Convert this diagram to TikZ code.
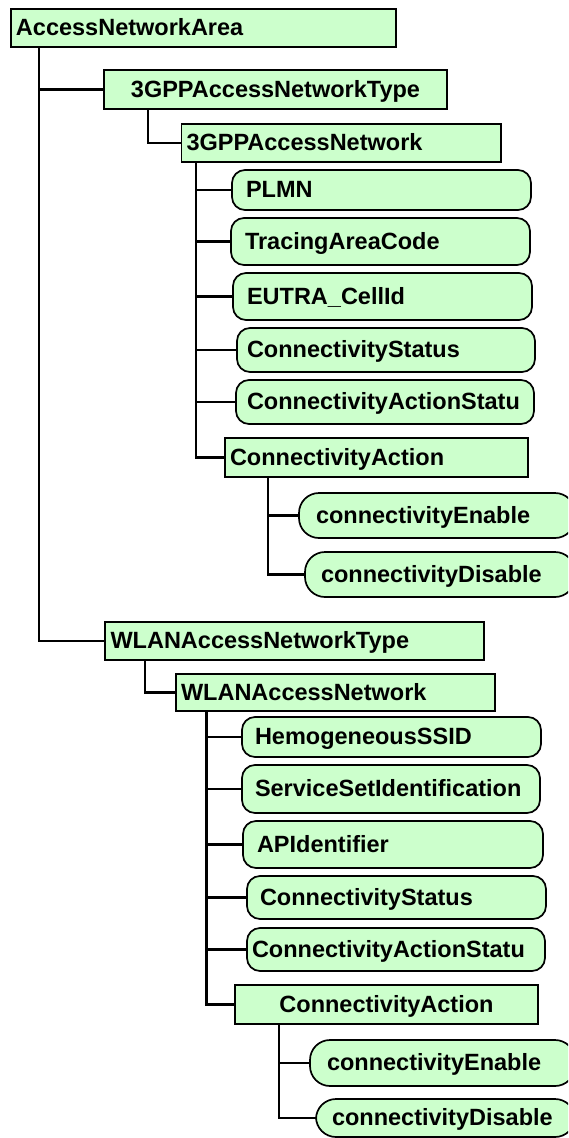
\documentclass[tikz,border=0pt]{standalone}
\usepackage{fontspec}
\setmainfont{Liberation Sans}
\definecolor{boxfill}{HTML}{CCFFCC}
\newcommand{\lbl}{\fontsize{23.5pt}{28pt}\selectfont\bfseries}
\tikzset{
  box/.style={draw=black, line width=1.7pt, fill=boxfill, font=\lbl,
    text height=17pt, text depth=2pt, inner ysep=0pt, outer sep=0pt,
    anchor=north west, align=left},
  % #1 width, #2 height, #3 left padding of the text
  dims/.code n args={3}{%
    \pgfmathsetmacro\boxtw{#1-2*#3}%
    \edef\boxtmp{\noexpand\tikzset{text width=\boxtw pt, inner xsep=#3pt,
      minimum height=#2pt}}\boxtmp},
  sqbox/.style={box},
  rbox/.style={box, rounded corners=13pt},
  pillbox/.style={box, rounded corners=20pt},
  link/.style={line width=2.5pt, draw=black}
}
\begin{document}
\begin{tikzpicture}[x=1pt, y=-1pt]
\useasboundingbox (0,0) rectangle (568,1138);
\clip (0,0) rectangle (568,1138);

% --- 3GPP branch ---
\node[sqbox, dims={385}{38}{5}] (root) at (11,9.3) {AccessNetworkArea};
\node[sqbox, dims={343}{39}{5}, align=center] (g3type) at (104,70) {3GPPAccessNetworkType};
\node[sqbox, dims={319.5}{38}{5}] (g3net) at (181.5,124) {3GPPAccessNetwork};
\node[rbox, dims={299}{40}{14}] (plmn) at (232,170) {PLMN};
\node[rbox, dims={299}{47}{14}] (tac) at (231,218) {TracingAreaCode};
\node[rbox, dims={299}{47}{14}] (eutra) at (233,273) {EUTRA\_CellId};
\node[rbox, dims={298}{44}{10}] (cs1) at (237,328) {ConnectivityStatus};
\node[rbox, dims={298}{44}{11}] (cas1) at (236,380) {ConnectivityActionStatu};
\node[sqbox, dims={303}{39}{5}] (ca1) at (225,438) {ConnectivityAction};
\node[pillbox, dims={276}{45}{17}] (ce1) at (299,493) {connectivityEnable};
\node[pillbox, dims={270}{45}{16}] (cd1) at (305,552) {connectivityDisable};

% --- WLAN branch ---
\node[sqbox, dims={379}{38}{5.5}] (wtype) at (105,622) {WLANAccessNetworkType};
\node[sqbox, dims={319}{37}{5}] (wnet) at (176,674) {WLANAccessNetwork};
\node[rbox, dims={299}{40}{13}] (hssid) at (242,717) {HemogeneousSSID};
\node[rbox, dims={298}{48}{13}] (ssi) at (242,765) {ServiceSetIdentification};
\node[rbox, dims={300}{47}{14}] (apid) at (243,821) {APIdentifier};
\node[rbox, dims={299}{43}{13}] (cs2) at (247,876) {ConnectivityStatus};
\node[rbox, dims={298}{43}{5}] (cas2) at (247,928) {ConnectivityActionStatu};
\node[sqbox, dims={303}{39}{5}, align=center] (ca2) at (235,985) {ConnectivityAction};
\node[pillbox, dims={265}{46}{17}] (ce2) at (310,1040) {connectivityEnable};
\node[pillbox, dims={259}{38}{16}] (cd2) at (316,1099) {connectivityDisable};

% --- trunk positions ---
\coordinate (vroot) at ([xshift=28pt]root.south west);
\coordinate (v3t) at ([xshift=44pt]g3type.south west);
\coordinate (v3n) at ([xshift=14.5pt]g3net.south west);
\coordinate (v3a) at ([xshift=43pt]ca1.south west);
\coordinate (vwt) at ([xshift=40pt]wtype.south west);
\coordinate (vwn) at ([xshift=30.5pt]wnet.south west);
\coordinate (vwa) at ([xshift=44pt]ca2.south west);

% --- connectors ---
\draw[link] (vroot) |- (wtype.west);
\draw[link] (g3type.west) -- (g3type.west -| vroot);
\draw[link] (v3t) |- (g3net.west);
\draw[link] (v3n) |- (ca1.west);
\foreach \n in {plmn,tac,eutra,cs1,cas1}
  \draw[link] (\n.west) -- (\n.west -| v3n);
\draw[link] (v3a) |- (cd1.west);
\draw[link] (ce1.west) -- (ce1.west -| v3a);
\draw[link] (vwt) |- (wnet.west);
\draw[link] (vwn) |- (ca2.west);
\foreach \n in {hssid,ssi,apid,cs2,cas2}
  \draw[link] (\n.west) -- (\n.west -| vwn);
\draw[link] (vwa) |- (cd2.west);
\draw[link] (ce2.west) -- (ce2.west -| vwa);
\end{tikzpicture}
\end{document}
